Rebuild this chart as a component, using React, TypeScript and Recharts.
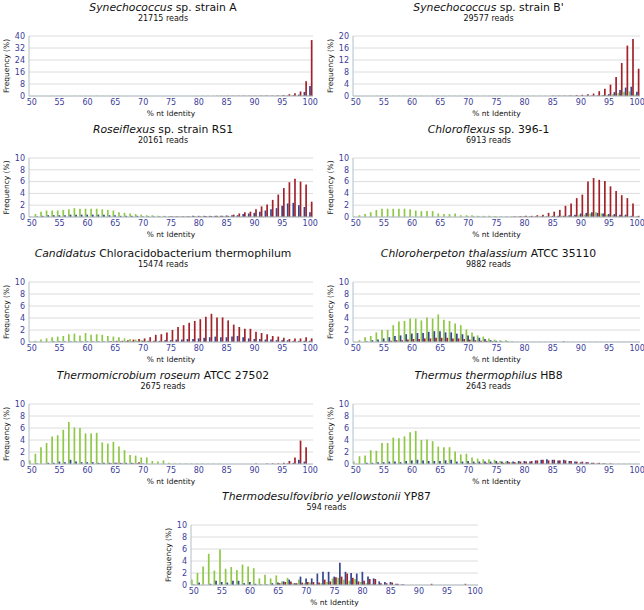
import React from "react";
import {
  BarChart,
  Bar,
  XAxis,
  YAxis,
  CartesianGrid,
} from "recharts";

// % nt identity categories, 50..100
const IDENTITY = [
  50, 51, 52, 53, 54, 55, 56, 57, 58, 59,
  60, 61, 62, 63, 64, 65, 66, 67, 68, 69,
  70, 71, 72, 73, 74, 75, 76, 77, 78, 79,
  80, 81, 82, 83, 84, 85, 86, 87, 88, 89,
  90, 91, 92, 93, 94, 95, 96, 97, 98, 99,
  100,
];

const TICKS_40 = [0, 8, 16, 24, 32, 40];
const TICKS_20 = [0, 4, 8, 12, 16, 20];
const TICKS_10 = [0, 2, 4, 6, 8, 10];

// Synechococcus sp. strain A
const synAGreen = [
  0, 0, 0, 0.1, 0.1, 0.1, 0.1, 0.1, 0.1, 0.1,
  0.1, 0.1, 0.2, 0.1, 0.1, 0.1, 0.1, 0.1, 0, 0,
  0, 0, 0, 0, 0, 0, 0, 0, 0, 0,
  0.1, 0.2, 0.2, 0.2, 0.2, 0.2, 0.2, 0.2, 0.2, 0.2,
  0.2, 0.2, 0.2, 0.2, 0.2, 0.2, 0.3, 0.3, 0.4, 0.5,
  0.6,
];
const synABlue = [
  0, 0, 0, 0, 0, 0, 0, 0, 0, 0,
  0, 0, 0, 0, 0, 0, 0, 0, 0, 0,
  0, 0, 0, 0, 0, 0, 0, 0, 0, 0,
  0, 0, 0, 0, 0.1, 0.1, 0.2, 0.2, 0.2, 0.2,
  0.2, 0.2, 0.2, 0.2, 0.2, 0.3, 0.3, 0.5, 0.9, 2.7,
  6.7,
];
const synARed = [
  0, 0, 0, 0, 0, 0, 0, 0, 0, 0,
  0, 0, 0, 0, 0, 0, 0, 0, 0, 0,
  0, 0, 0, 0, 0, 0, 0, 0, 0, 0,
  0, 0, 0, 0.1, 0.1, 0.2, 0.2, 0.2, 0.2, 0.2,
  0.2, 0.3, 0.3, 0.3, 0.4, 0.5, 1.2, 1.8, 3.0, 9.8,
  37.3,
];

// Synechococcus sp. strain B'
const synBGreen = [
  0, 0, 0, 0, 0.1, 0.1, 0.1, 0.1, 0.1, 0.1,
  0.1, 0.1, 0.1, 0.1, 0.1, 0.1, 0.1, 0.1, 0.1, 0.1,
  0.1, 0.1, 0.1, 0.1, 0.1, 0.1, 0.1, 0.1, 0.1, 0.1,
  0.1, 0.1, 0.1, 0.1, 0.1, 0.1, 0.1, 0.1, 0.1, 0.1,
  0.1, 0.1, 0.1, 0.1, 0.2, 0.3, 0.6, 1.0, 1.4, 1.5,
  0.5,
];
const synBBlue = [
  0, 0, 0, 0, 0, 0, 0, 0, 0, 0,
  0, 0, 0, 0, 0, 0, 0, 0, 0, 0,
  0, 0, 0, 0, 0, 0, 0, 0, 0, 0,
  0, 0, 0, 0, 0, 0.1, 0.1, 0.1, 0.1, 0.1,
  0.1, 0.1, 0.2, 0.2, 0.3, 0.6, 1.3, 2.0, 2.8, 3.1,
  1.4,
];
const synBRed = [
  0, 0, 0, 0, 0, 0, 0, 0, 0, 0,
  0, 0, 0, 0, 0, 0, 0, 0, 0, 0,
  0, 0, 0, 0, 0, 0, 0, 0, 0, 0,
  0, 0, 0, 0, 0, 0.1, 0.1, 0.1, 0.2, 0.3,
  0.4, 0.6, 0.8, 1.6, 2.4, 3.8, 6.3, 11.0, 16.8, 19.0,
  9.1,
];

// Roseiflexus sp. strain RS1
const roseGreen = [
  0.1, 0.5, 0.9, 1.1, 1.1, 1.1, 1.2, 1.3, 1.5, 1.4,
  1.4, 1.4, 1.4, 1.3, 1.2, 1.1, 0.8, 0.7, 0.6, 0.5,
  0.4, 0.3, 0.3, 0.2, 0.2, 0.15, 0.1, 0.1, 0.1, 0.1,
  0.1, 0.1, 0.1, 0.1, 0.1, 0.1, 0.1, 0.1, 0.1, 0.1,
  0.1, 0.1, 0.1, 0.1, 0.1, 0.1, 0.1, 0.1, 0.1, 0.1,
  0.05,
];
const roseBlue = [
  0, 0.1, 0.2, 0.3, 0.3, 0.3, 0.3, 0.4, 0.4, 0.4,
  0.4, 0.4, 0.4, 0.4, 0.3, 0.3, 0.2, 0.2, 0.2, 0.2,
  0.1, 0.1, 0.1, 0.1, 0.1, 0.1, 0.1, 0.1, 0.1, 0.2,
  0.2, 0.2, 0.2, 0.2, 0.2, 0.25, 0.3, 0.3, 0.5, 0.6,
  0.7, 0.9, 1.1, 1.3, 1.5, 1.9, 2.3, 2.4, 2.0, 1.7,
  0.8,
];
const roseRed = [
  0, 0, 0, 0, 0, 0, 0, 0, 0, 0,
  0, 0, 0, 0, 0, 0, 0, 0, 0, 0,
  0, 0, 0, 0, 0, 0.1, 0.1, 0.1, 0.1, 0.1,
  0.1, 0.15, 0.15, 0.2, 0.2, 0.2, 0.4, 0.6, 0.8, 0.9,
  1.3, 1.8, 2.1, 2.9, 3.8, 4.9, 5.9, 6.5, 6.0, 5.5,
  2.6,
];

// Chloroflexus sp. 396-1
const chflGreen = [
  0.1, 0.3, 0.5, 0.8, 1.2, 1.4, 1.4, 1.4, 1.4, 1.4,
  1.3, 1.1, 1.0, 1.0, 1.0, 0.6, 0.5, 0.5, 0.6, 0.3,
  0.3, 0.3, 0.2, 0.2, 0.2, 0.15, 0.1, 0.1, 0.1, 0.1,
  0.1, 0.1, 0.1, 0.1, 0.1, 0.1, 0.1, 0.2, 0.2, 0.2,
  0.3, 0.4, 0.6, 0.8, 0.6, 0.4, 0.3, 0.2, 0.2, 0.1,
  0.05,
];
const chflBlue = [
  0, 0, 0, 0, 0, 0, 0, 0, 0, 0,
  0, 0, 0, 0, 0, 0, 0, 0, 0, 0,
  0.05, 0.05, 0.05, 0.05, 0.05, 0.05, 0.05, 0.05, 0.05, 0.05,
  0.1, 0.1, 0.1, 0.1, 0.1, 0.2, 0.2, 0.2, 0.3, 0.4,
  0.6, 0.7, 0.8, 0.7, 0.6, 0.5, 0.5, 0.4, 0.4, 0.2,
  0.1,
];
const chflRed = [
  0, 0, 0, 0, 0, 0, 0, 0, 0, 0,
  0, 0, 0, 0, 0, 0, 0, 0, 0, 0,
  0, 0, 0, 0, 0, 0, 0, 0, 0.1, 0.15,
  0.2, 0.2, 0.3, 0.4, 0.7, 0.9, 1.2, 1.9, 2.3, 3.2,
  3.8, 6.0, 6.6, 6.3, 6.1, 5.2, 4.4, 3.7, 3.2, 2.3,
  0.2,
];

// Candidatus Chloracidobacterium thermophilum
const candGreen = [
  0.1, 0.2, 0.4, 0.6, 0.8, 0.9, 1.0, 1.3, 1.4, 1.1,
  1.5, 1.2, 1.3, 1.2, 1.0, 0.9, 0.8, 0.6, 0.5, 0.4,
  0.3, 0.2, 0.1, 0.1, 0.1, 0.05, 0.05, 0.05, 0.05, 0.05,
  0.05, 0.05, 0.05, 0.05, 0.05, 0.05, 0.05, 0.05, 0.05, 0.05,
  0.05, 0.05, 0.05, 0.05, 0.05, 0.05, 0.05, 0.05, 0.05, 0.05,
  0.05,
];
const candBlue = [
  0, 0, 0, 0, 0.1, 0.1, 0.1, 0.1, 0.1, 0.1,
  0.1, 0.1, 0.1, 0.1, 0.1, 0.1, 0.1, 0.1, 0.1, 0.1,
  0.2, 0.2, 0.2, 0.2, 0.3, 0.3, 0.4, 0.4, 0.5, 0.5,
  0.6, 0.7, 0.8, 0.9, 0.8, 0.8, 0.9, 1.0, 0.8, 0.6,
  0.5, 0.5, 0.4, 0.4, 0.3, 0.3, 0.3, 0.2, 0.2, 0.2,
  0.2,
];
const candRed = [
  0, 0, 0, 0, 0, 0, 0, 0, 0, 0,
  0, 0, 0, 0, 0.1, 0.2, 0.2, 0.3, 0.4, 0.5,
  0.6, 0.8, 1.2, 1.3, 1.6, 2.0, 2.5, 2.8, 3.2, 3.5,
  3.8, 4.2, 4.7, 4.1, 4.1, 3.6, 2.9, 2.5, 2.2, 2.2,
  1.7, 1.5, 1.3, 1.0, 0.9, 0.7, 0.5, 0.6, 0.6, 0.8,
  0.6,
];

// Chloroherpeton thalassium ATCC 35110
const chhtGreen = [
  0.1, 0.3, 0.8, 1.0, 1.6, 2.0, 2.0, 2.8, 3.4, 3.5,
  3.9, 3.9, 3.6, 4.1, 3.9, 4.6, 3.7, 3.5, 3.1, 2.8,
  2.1, 1.6, 1.1, 0.9, 0.6, 0.4, 0.3, 0.3, 0.1, 0.05,
  0.05, 0.05, 0.05, 0.05, 0.05, 0.05, 0.05, 0.05, 0.05, 0.05,
  0.05, 0.05, 0.05, 0.05, 0.05, 0.05, 0.05, 0.05, 0.05, 0.05,
  0.05,
];
const chhtBlue = [
  0, 0, 0.1, 0.3, 0.4, 0.6, 0.8, 1.0, 1.1, 1.3,
  1.4, 1.5, 1.5, 1.7, 1.8, 1.8, 1.6, 1.6, 1.4, 1.3,
  1.1, 0.9, 0.7, 0.5, 0.3, 0.2, 0.1, 0.1, 0.05, 0,
  0, 0, 0, 0, 0, 0, 0, 0.1, 0, 0,
  0, 0, 0, 0, 0, 0, 0, 0, 0, 0,
  0,
];
const chhtRed = [
  0, 0, 0, 0, 0, 0.1, 0.2, 0.3, 0.3, 0.4,
  0.5, 0.5, 0.6, 0.6, 0.7, 0.7, 0.7, 0.6, 0.6, 0.5,
  0.4, 0.3, 0.2, 0.2, 0.1, 0, 0, 0, 0, 0,
  0, 0, 0, 0, 0, 0, 0, 0, 0, 0,
  0, 0, 0, 0, 0, 0, 0, 0, 0, 0,
  0,
];

// Thermomicrobium roseum ATCC 27502
const tmroGreen = [
  0.6, 1.7, 2.8, 3.5, 4.6, 4.8, 5.7, 7.0, 6.1, 6.0,
  5.1, 5.1, 5.2, 3.6, 3.4, 3.7, 2.9, 2.3, 1.5, 1.4,
  1.1, 1.1, 0.5, 0.4, 0.6, 0.2, 0.1, 0.1, 0.1, 0.1,
  0.1, 0.1, 0.05, 0.05, 0.05, 0, 0, 0, 0, 0,
  0, 0, 0, 0, 0, 0, 0, 0, 0, 0,
  0,
];
const tmroBlue = [
  0, 0.1, 0, 0.2, 0.2, 0.4, 0.3, 0.7, 0.4, 0.3,
  0.3, 0.3, 0.2, 0.2, 0.2, 0.2, 0.2, 0.2, 0.2, 0.1,
  0.1, 0, 0, 0, 0, 0, 0, 0, 0, 0,
  0, 0, 0, 0, 0, 0, 0, 0, 0, 0,
  0, 0, 0, 0, 0, 0, 0.1, 0.2, 0.7, 0.4,
  0,
];
const tmroRed = [
  0, 0, 0, 0, 0, 0, 0, 0, 0, 0,
  0, 0, 0.1, 0, 0.1, 0.2, 0.1, 0, 0.1, 0.3,
  0, 0, 0, 0, 0, 0, 0, 0, 0, 0,
  0, 0, 0, 0, 0, 0, 0, 0, 0, 0,
  0.1, 0, 0.1, 0.1, 0.1, 0.2, 0.5, 1.1, 3.9, 2.8,
  0,
];

// Thermus thermophilus HB8
const ththGreen = [
  0.4, 1.3, 1.4, 2.3, 2.2, 3.5, 3.5, 4.4, 4.3, 4.6,
  5.3, 5.5, 4.0, 4.1, 3.8, 2.9, 2.8, 2.8, 2.1, 1.6,
  1.7, 1.1, 0.9, 0.8, 0.8, 0.7, 0.5, 0.4, 0.3, 0.2,
  0.2, 0.1, 0.1, 0.1, 0.1, 0.1, 0.1, 0.05, 0.05, 0.05,
  0.05, 0.05, 0.05, 0.05, 0.05, 0.05, 0.05, 0.05, 0.05, 0.05,
  0.05,
];
const ththBlue = [
  0, 0, 0.2, 0.2, 0.3, 0.3, 0.4, 0.4, 0.3, 0.5,
  0.6, 0.7, 0.6, 0.5, 0.5, 0.5, 0.6, 0.7, 0.4, 0.4,
  0.5, 0.4, 0.4, 0.4, 0.4, 0.5, 0.4, 0.5, 0.4, 0.5,
  0.5, 0.4, 0.6, 0.7, 0.8, 0.7, 0.6, 0.7, 0.5, 0.4,
  0.3, 0.3, 0.2, 0.1, 0.1, 0, 0, 0, 0, 0,
  0,
];
const ththRed = [
  0, 0, 0, 0, 0, 0, 0, 0, 0, 0,
  0, 0, 0, 0, 0, 0, 0.1, 0, 0, 0,
  0.1, 0.1, 0.1, 0.2, 0.1, 0.2, 0.2, 0.3, 0.3, 0.4,
  0.4, 0.5, 0.6, 0.7, 0.6, 0.7, 0.6, 0.6, 0.5, 0.4,
  0.4, 0.3, 0.2, 0.2, 0.1, 0.1, 0, 0, 0, 0,
  0,
];

// Thermodesulfovibrio yellowstonii YP87
const tdyeGreen = [
  0.9, 2.0, 3.1, 5.2, 2.4, 5.9, 2.7, 3.0, 2.5, 3.4,
  3.1, 2.8, 1.1, 1.7, 1.1, 1.6, 0.6, 1.2, 0.3, 0.9,
  0.3, 0.4, 0.1, 0.3, 0.5, 1.1, 1.2, 0.9, 0.7, 1.0,
  0.5, 0.3, 0.2, 0.1, 0, 0, 0, 0, 0, 0,
  0, 0, 0, 0, 0, 0, 0, 0, 0, 0,
  0,
];
const tdyeBlue = [
  0.1, 0.4, 0, 0.2, 0.7, 0.5, 0.4, 0.7, 0.7, 0.3,
  0.5, 0.2, 0.1, 0.1, 0.3, 0.4, 0.6, 0.9, 0.3, 1.4,
  1.1, 1.1, 1.9, 2.2, 2.2, 1.4, 3.7, 2.2, 2.0, 1.9,
  2.2, 1.4, 1.1, 0.6, 0.5, 0.5, 0.2, 0.1, 0, 0,
  0, 0, 0, 0, 0, 0, 0, 0, 0, 0,
  0,
];
const tdyeRed = [
  0, 0, 0, 0, 0, 0, 0, 0, 0, 0,
  0, 0, 0, 0, 0, 0.3, 0.5, 0.6, 0.3, 0.4,
  0.5, 0.5, 0.4, 0.9, 0.6, 1.3, 1.4, 1.9, 1.2, 0.6,
  0.7, 1.0, 1.0, 0.3, 0.3, 0.4, 0.2, 0.1, 0, 0,
  0, 0, 0.2, 0, 0, 0, 0, 0, 0.2, 0,
  0,
];

const PANELS = [
  { italic: "Synechococcus", rest: " sp. strain A", reads: "21715 reads", green: synAGreen, blue: synABlue, red: synARed, ticks: TICKS_40 },
  { italic: "Synechococcus", rest: " sp. strain B'", reads: "29577 reads", green: synBGreen, blue: synBBlue, red: synBRed, ticks: TICKS_20 },
  { italic: "Roseiflexus", rest: " sp. strain RS1", reads: "20161 reads", green: roseGreen, blue: roseBlue, red: roseRed, ticks: TICKS_10 },
  { italic: "Chloroflexus", rest: " sp. 396-1", reads: "6913 reads", green: chflGreen, blue: chflBlue, red: chflRed, ticks: TICKS_10 },
  { italic: "Candidatus", rest: " Chloracidobacterium thermophilum", reads: "15474 reads", green: candGreen, blue: candBlue, red: candRed, ticks: TICKS_10 },
  { italic: "Chloroherpeton thalassium", rest: " ATCC 35110", reads: "9882 reads", green: chhtGreen, blue: chhtBlue, red: chhtRed, ticks: TICKS_10 },
  { italic: "Thermomicrobium roseum", rest: " ATCC 27502", reads: "2675 reads", green: tmroGreen, blue: tmroBlue, red: tmroRed, ticks: TICKS_10 },
  { italic: "Thermus thermophilus", rest: " HB8", reads: "2643 reads", green: ththGreen, blue: ththBlue, red: ththRed, ticks: TICKS_10 },
  { italic: "Thermodesulfovibrio yellowstonii", rest: " YP87", reads: "594 reads", green: tdyeGreen, blue: tdyeBlue, red: tdyeRed, ticks: TICKS_10 },
];

// plot-area boxes on the page: left, top, width, height
const LAYOUT = [
  { left: 29, top: 36, w: 284, h: 60 },
  { left: 353, top: 36, w: 287, h: 60 },
  { left: 29, top: 158, w: 284, h: 59 },
  { left: 353, top: 158, w: 287, h: 59 },
  { left: 29, top: 282, w: 284, h: 60 },
  { left: 353, top: 282, w: 287, h: 60 },
  { left: 29, top: 404, w: 284, h: 60 },
  { left: 353, top: 404, w: 287, h: 60 },
  { left: 191, top: 525, w: 287, h: 60 },
];

const GREEN = "#8fc846";
const BLUE = "#35468f";
const RED = "#a3222a";
const TICK_BLUE = "#3c3c9a";
const FRAME = "#b4bec8";
const GRID = "#dcdcdc";

const Y_AXIS_W = 29;
const M_TOP = 7;
const M_RIGHT = 8;
const M_BOTTOM = 3;
const X_AXIS_H = 20;

function Panel({ p, box }: any) {
  const data = IDENTITY.map((x, i) => ({
    x,
    green: p.green[i],
    blue: p.blue[i],
    red: p.red[i],
  }));
  const max = p.ticks[p.ticks.length - 1];
  const cx = box.left + box.w / 2;

  return (
    <>
      <div
        style={{
          position: "absolute",
          left: cx - 8 - 180,
          width: 360,
          top: box.top - 35,
          textAlign: "center",
          fontSize: 10.8,
          lineHeight: "13px",
          color: "#111",
          whiteSpace: "nowrap",
        }}
      >
        <i>{p.italic}</i>
        {p.rest}
      </div>
      <div
        style={{
          position: "absolute",
          left: cx - 8 - 100,
          width: 200,
          top: box.top - 22,
          textAlign: "center",
          fontSize: 8,
          lineHeight: "10px",
          color: "#111",
        }}
      >
        {p.reads}
      </div>
      <div
        style={{
          position: "absolute",
          left: box.left - Y_AXIS_W,
          top: box.top - M_TOP,
        }}
      >
        <BarChart
          width={Y_AXIS_W + box.w + M_RIGHT}
          height={M_TOP + box.h + X_AXIS_H + M_BOTTOM}
          data={data}
          margin={{ top: M_TOP, right: M_RIGHT, bottom: M_BOTTOM, left: 0 }}
          barSize={1.7}
          barGap={0}
        >
          <CartesianGrid vertical={false} stroke={GRID} />
          <XAxis
            dataKey="x"
            interval={4}
            tickLine={false}
            tickSize={2}
            tickMargin={1}
            height={X_AXIS_H}
            axisLine={{ stroke: FRAME }}
            tick={{ fill: TICK_BLUE, fontSize: 8 }}
            label={{
              value: "% nt Identity",
              position: "insideBottom",
              offset: 0,
              fill: "#111",
              fontSize: 7.5,
            }}
          />
          <YAxis
            type="number"
            domain={[0, max]}
            ticks={p.ticks}
            interval={0}
            width={Y_AXIS_W}
            tickLine={false}
            tickSize={2}
            tickMargin={2}
            axisLine={{ stroke: FRAME }}
            tick={{ fill: TICK_BLUE, fontSize: 8 }}
            label={{
              value: "Frequency (%)",
              angle: -90,
              position: "insideLeft",
              offset: 6,
              fill: "#111",
              fontSize: 7.5,
              style: { textAnchor: "middle" },
            }}
          />
          <YAxis
            yAxisId="frame"
            orientation="right"
            width={0}
            tick={false}
            tickLine={false}
            axisLine={{ stroke: FRAME }}
          />
          <Bar dataKey="green" fill={GREEN} isAnimationActive={false} />
          <Bar dataKey="blue" fill={BLUE} isAnimationActive={false} />
          <Bar dataKey="red" fill={RED} isAnimationActive={false} />
        </BarChart>
      </div>
    </>
  );
}

export default function App() {
  return (
    <div
      style={{
        position: "absolute",
        left: 0,
        top: 0,
        width: 644,
        height: 610,
        overflow: "hidden",
        background: "#fff",
        fontFamily: "'DejaVu Sans', sans-serif",
      }}
    >
      {PANELS.map((p, i) => (
        <Panel key={i} p={p} box={LAYOUT[i]} />
      ))}
    </div>
  );
}
